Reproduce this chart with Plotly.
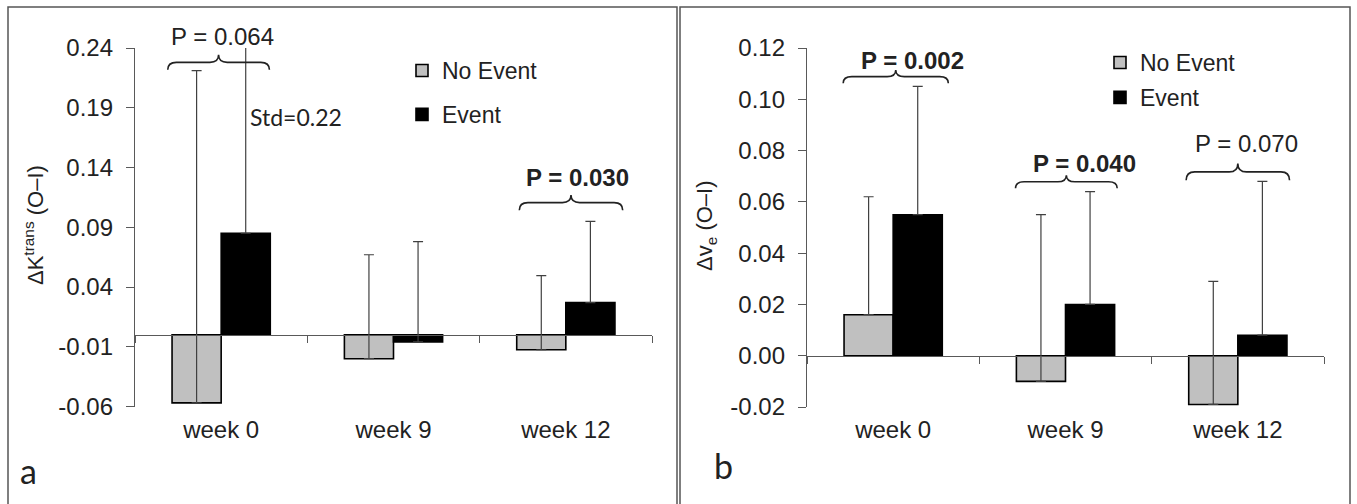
import plotly.graph_objects as go

# ---------------- data ----------------
cats = ["week 0", "week 9", "week 12"]

ktrans_no_event = [-0.057, -0.020, -0.0125]
ktrans_event = [0.085, -0.006, 0.027]
ktrans_no_event_sd = [0.278, 0.087, 0.062]
ktrans_event_sd = [0.22, 0.084, 0.068]

ve_no_event = [0.016, -0.010, -0.019]
ve_event = [0.055, 0.020, 0.008]
ve_no_event_sd = [0.046, 0.065, 0.048]
ve_event_sd = [0.050, 0.044, 0.060]

k_tickvals = [-0.06, -0.01, 0.04, 0.09, 0.14, 0.19, 0.24]
k_ticktext = ["-0.06", "-0.01", "0.04", "0.09", "0.14", "0.19", "0.24"]
v_tickvals = [-0.02, 0.00, 0.02, 0.04, 0.06, 0.08, 0.10, 0.12]
v_ticktext = ["-0.02", "0.00", "0.02", "0.04", "0.06", "0.08", "0.10", "0.12"]

k_range = [-0.06, 0.24]
v_range = [-0.02, 0.12]

# p-value annotations: (x category-index, y data, text, bold)
k_pvals = [(2.07, 0.132, "P = 0.030", True)]
k_top_pval = (0.01, "P = 0.064")  # sits above the axis range
v_pvals = [(0.11, 0.1152, "P = 0.002", True), (1.11, 0.0751, "P = 0.040", True),
           (2.05, 0.0829, "P = 0.070", False)]
# braces: (x0, x1, y_end, height)
k_braces = [(-0.31, 0.28, 0.2217, 0.0126), (1.73, 2.33, 0.1043, 0.0126)]
v_braces = [(-0.29, 0.32, 0.1063, 0.0051), (0.71, 1.30, 0.0653, 0.0051),
            (1.70, 2.30, 0.0684, 0.0066)]

# ---------------- style ----------------
W, H = 1357, 504
FONT = "Liberation Sans, Arial, sans-serif"
FONT2 = "Lato, Noto Sans, sans-serif"
TXT = "#222222"
AX = "#595959"
GRAY = "#c0c0c0"

fig = go.Figure()

def add_bars(xa, ya, ne, e, ne_sd, e_sd, legend, grp):
    for name, vals, sd, col in [("No Event", ne, ne_sd, GRAY), ("Event", e, e_sd, "black")]:
        fig.add_trace(go.Bar(
            x=cats, y=vals, name=name, xaxis=xa, yaxis=ya,
            marker=dict(color=col, line=dict(color="black", width=1.6)),
            error_y=dict(type="data", array=sd, symmetric=False, arrayminus=[0] * len(sd),
                         color="#404040", thickness=1.2, width=5),
            legend=legend, legendgroup=grp + name, showlegend=True,
        ))

add_bars("x", "y", ktrans_no_event, ktrans_event, ktrans_no_event_sd, ktrans_event_sd, "legend", "k")
add_bars("x2", "y2", ve_no_event, ve_event, ve_no_event_sd, ve_event_sd, "legend2", "v")

# invisible carriers so the zero-crossing category axes get drawn
for xa, ya in [("x3", "y"), ("x4", "y2")]:
    fig.add_trace(go.Scatter(x=cats, y=[None] * len(cats), xaxis=xa, yaxis=ya,
                             mode="markers", showlegend=False, hoverinfo="skip"))

ydom_l = [1 - 406.5 / H, 1 - 48 / H]
ydom_r = [1 - 407 / H, 1 - 48 / H]
xdom_l = [135 / W, 652 / W]
xdom_r = [807 / W, 1324 / W]

def zero_pos(rng, dom):
    return dom[0] + (0 - rng[0]) / (rng[1] - rng[0]) * (dom[1] - dom[0])

xcommon = dict(type="category", categoryarray=cats, categoryorder="array",
               range=[-0.5, 2.5], showgrid=False, zeroline=False)

label_x = dict(xcommon, showline=False, ticks="", showticklabels=True,
               tickfont=dict(family=FONT, size=24, color=TXT), ticklabelstandoff=6)
line_x = dict(xcommon, showline=True, linecolor=AX, linewidth=1.3, ticks="outside",
              tickson="boundaries", ticklen=7, tickcolor=AX, tickwidth=1.3,
              showticklabels=False, anchor="free")

ycommon = dict(showgrid=False, zeroline=False, showline=True, linecolor=AX, linewidth=1.3,
               ticks="outside", ticklen=8, tickcolor=AX, tickwidth=1.3,
               tickfont=dict(family=FONT, size=24, color=TXT), ticklabelstandoff=8)

fig.update_layout(
    width=W, height=H, margin=dict(l=0, r=0, t=0, b=0, autoexpand=False),
    paper_bgcolor="white", plot_bgcolor="white",
    barmode="group", bargap=0.43, bargroupgap=0,
    xaxis=dict(label_x, domain=xdom_l, anchor="y"),
    xaxis2=dict(label_x, domain=xdom_r, anchor="y2"),
    xaxis3=dict(line_x, domain=xdom_l, overlaying="x", position=zero_pos(k_range, ydom_l)),
    xaxis4=dict(line_x, domain=xdom_r, overlaying="x2", position=zero_pos(v_range, ydom_r)),
    yaxis=dict(ycommon, domain=ydom_l, range=k_range, tickvals=k_tickvals, ticktext=k_ticktext, anchor="x"),
    yaxis2=dict(ycommon, domain=ydom_r, range=v_range, tickvals=v_tickvals, ticktext=v_ticktext, anchor="x2"),
    legend=dict(x=402 / W, y=1 - 49 / H, xanchor="left", yanchor="top",
                font=dict(family=FONT, size=23, color=TXT), traceorder="grouped",
                tracegroupgap=11, bgcolor="rgba(0,0,0,0)"),
    legend2=dict(x=1100 / W, y=1 - 41 / H, xanchor="left", yanchor="top",
                 font=dict(family=FONT, size=23, color=TXT), traceorder="grouped",
                 tracegroupgap=2, bgcolor="rgba(0,0,0,0)"),
)

def brace_path(x0, x1, y0, h):
    xm = (x0 + x1) / 2
    r = 0.05
    yb = y0 + h / 2
    yp = y0 + h
    return (f"M {x0},{y0} Q {x0},{yb} {x0 + r},{yb} L {xm - r},{yb} "
            f"Q {xm},{yb} {xm},{yp} Q {xm},{yb} {xm + r},{yb} "
            f"L {x1 - r},{yb} Q {x1},{yb} {x1},{y0}")

shapes = []
for (x0, x1, y0, h) in k_braces:
    shapes.append(dict(type="path", xref="x", yref="y", path=brace_path(x0, x1, y0, h),
                       line=dict(color="#222", width=1.6)))
for (x0, x1, y0, h) in v_braces:
    shapes.append(dict(type="path", xref="x2", yref="y2", path=brace_path(x0, x1, y0, h),
                       line=dict(color="#222", width=1.6)))
# panel frames
shapes.append(dict(type="rect", xref="paper", yref="paper", x0=8 / W, x1=677 / W,
                   y0=-0.05, y1=1 - 7 / H, line=dict(color="#555", width=1.5)))
shapes.append(dict(type="rect", xref="paper", yref="paper", x0=680 / W, x1=1350 / W,
                   y0=-0.05, y1=1 - 7 / H, line=dict(color="#555", width=1.5)))

annotations = []
for (x, y, t, b) in k_pvals:
    annotations.append(dict(xref="x", yref="y", x=x, y=y, text=f"<b>{t}</b>" if b else t,
                            showarrow=False, font=dict(family=FONT, size=24, color=TXT)))
annotations.append(dict(xref="x", yref="paper", x=k_top_pval[0], y=1 - 37 / H, text=k_top_pval[1],
                        xanchor="center", yanchor="middle",
                        showarrow=False, font=dict(family=FONT, size=24, color=TXT)))
for (x, y, t, b) in v_pvals:
    annotations.append(dict(xref="x2", yref="y2", x=x, y=y, text=f"<b>{t}</b>" if b else t,
                            showarrow=False, font=dict(family=FONT, size=24, color=TXT)))
annotations.append(dict(xref="x", yref="y", x=0.156, y=0.1823, text="Std=0.22", xanchor="left",
                        showarrow=False, font=dict(family=FONT2, size=23, color=TXT)))
annotations.append(dict(xref="paper", yref="paper", x=34 / W, y=1 - 225 / H,
                        xanchor="center", yanchor="middle",
                        text="ΔK<sup>trans</sup> (O–I)", textangle=-90, showarrow=False,
                        font=dict(family=FONT, size=22, color=TXT)))
annotations.append(dict(xref="paper", yref="paper", x=706 / W, y=1 - 226 / H,
                        xanchor="center", yanchor="middle",
                        text="Δv<sub>e</sub> (O–I)", textangle=-90, showarrow=False,
                        font=dict(family=FONT, size=22, color=TXT)))
annotations.append(dict(xref="paper", yref="paper", x=28 / W, y=1 - 470 / H, text="a",
                        xanchor="center", yanchor="middle",
                        showarrow=False, font=dict(family=FONT2, size=34, color=TXT)))
annotations.append(dict(xref="paper", yref="paper", x=723 / W, y=1 - 465 / H, text="b",
                        xanchor="center", yanchor="middle",
                        showarrow=False, font=dict(family=FONT2, size=34, color=TXT)))

fig.update_layout(shapes=shapes, annotations=annotations)
fig.write_html("out.html", config={"displayModeBar": False},
               post_script="document.body.style.margin='0';")
